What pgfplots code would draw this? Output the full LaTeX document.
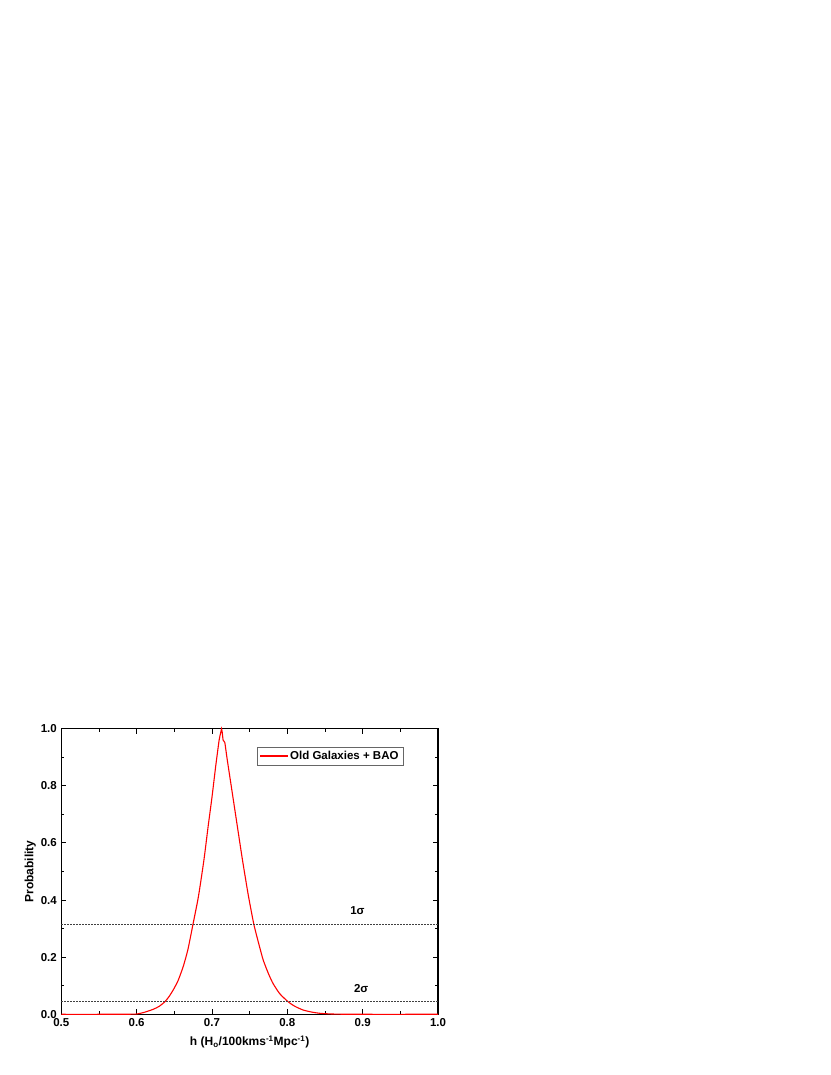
\documentclass[border=0pt]{standalone}
\usepackage{pgfplots}
\pgfplotsset{compat=1.18}
\usepackage{fontspec}
\setmainfont{Liberation Sans}

\begin{document}
\begin{tikzpicture}
\useasboundingbox (0,0) rectangle (830pt,1075pt);
\begin{axis}[
    at={(61.3pt,60.7pt)}, anchor=south west,
    scale only axis,
    width=376.7pt, height=285.6pt,
    xmin=0.5, xmax=1.0, ymin=0, ymax=1.0,
    xtick={0.5,0.6,...,1.0}, ytick={0,0.2,...,1.0},
    minor x tick num=1, minor y tick num=1,
    tick align=inside,
    major tick length=5pt, minor tick length=3pt,
    tick style={black, line width=0.9pt},
    axis line style={line width=1.2pt},
    xtick pos=both, ytick pos=both,
    xticklabel pos=lower, yticklabel pos=left,
    ticklabel style={font=\fontsize{11.5}{13}\selectfont\bfseries,
        /pgf/number format/assume math mode=true,
        /pgf/number format/fixed, /pgf/number format/fixed zerofill,
        /pgf/number format/precision=1},
    xticklabel style={yshift=-1pt},
    yticklabel style={xshift=-1pt},
    xlabel={h (H\textsubscript{o}/100kms\textsuperscript{-1}Mpc\textsuperscript{-1})},
    ylabel={Probability},
    label style={font=\fontsize{12}{14}\selectfont\bfseries},
    xlabel style={yshift=-2pt},
    ylabel style={yshift=-2pt},
    legend style={at={(0.909,0.937)}, anchor=north east, draw=black!60,
        font=\fontsize{11.5}{13}\selectfont\bfseries, inner xsep=3pt, inner ysep=2pt},
    legend cell align=left,
    every legend image post/.append style={red, fill=red, draw=red},
    clip=false,
]
\addplot[color=red, line width=1.1pt, smooth, tension=0.35,
    legend image code/.code={\fill[red] (0pt,-0.6pt) rectangle (27pt,0.6pt);}] coordinates {
(0.500,0) (0.550,0) (0.590,0.0003) (0.600,0.001) (0.609,0.006) (0.622,0.0175)
(0.630,0.028) (0.6375,0.044) (0.643,0.062) (0.6485,0.085) (0.655,0.118) (0.6618,0.167)
(0.668,0.226) (0.675,0.318) (0.682,0.412) (0.6893,0.540) (0.695,0.66)
(0.700,0.76) (0.705,0.87) (0.7095,0.96) (0.7115,0.985) (0.7127,1.0)
(0.7137,0.985) (0.7148,0.96) (0.717,0.952) (0.720,0.896) (0.725,0.809)
(0.730,0.722) (0.735,0.635) (0.7405,0.540) (0.748,0.42) (0.7555,0.316)
(0.762,0.248) (0.768,0.190) (0.775,0.142) (0.781,0.108) (0.790,0.072)
(0.801,0.044) (0.810,0.028) (0.821,0.015) (0.832,0.008) (0.843,0.0035)
(0.855,0.0015) (0.867,0.0005) (0.880,0.0001) (0.900,0) (1.0,0)
};
\addlegendentry{Old Galaxies + BAO}
\addplot[black!75, line width=0.5pt, dash pattern=on 1.5pt off 1.5pt, forget plot] coordinates {(0.5,0.317) (1.0,0.317)};
\addplot[black!75, line width=0.5pt, dash pattern=on 1.5pt off 1.5pt, forget plot] coordinates {(0.5,0.046) (1.0,0.046)};
\node[font=\fontsize{11.5}{13}\selectfont\bfseries] at (axis cs:0.893,0.362) {1σ};
\node[font=\fontsize{11.5}{13}\selectfont\bfseries] at (axis cs:0.898,0.089) {2σ};
\end{axis}
\end{tikzpicture}
\end{document}
